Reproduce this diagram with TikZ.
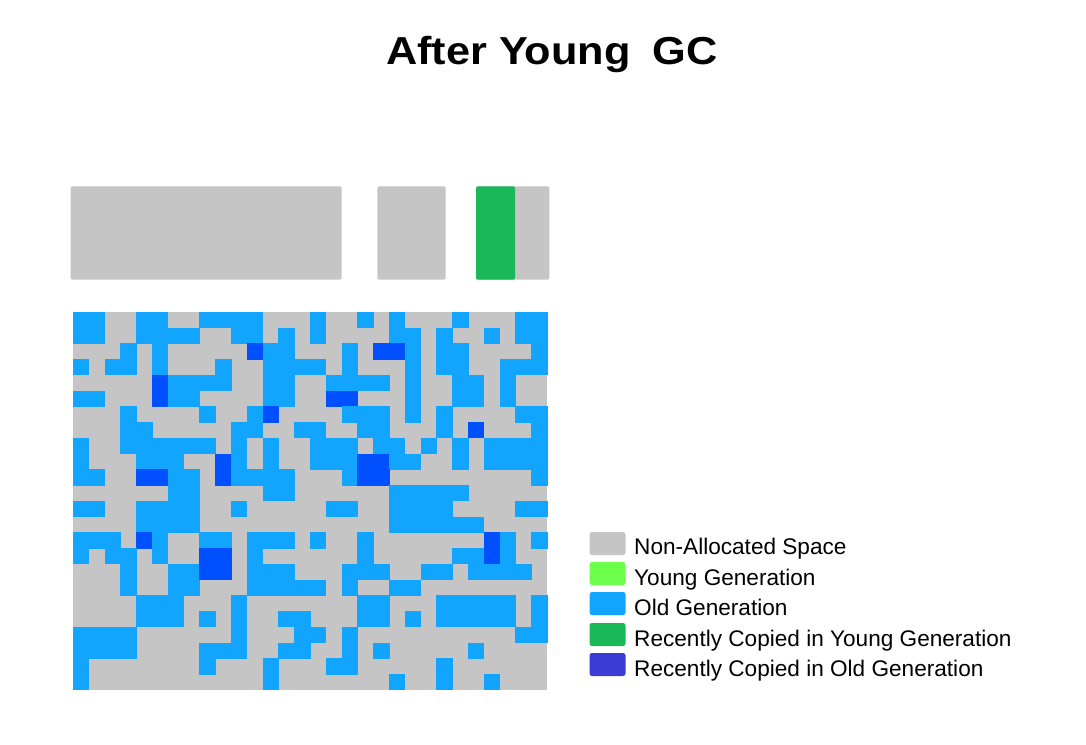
\documentclass[tikz,border=0pt]{standalone}
\usepackage{fontspec}
\setmainfont{Liberation Sans}
\definecolor{cg}{HTML}{C5C5C5}
\definecolor{cb}{HTML}{11A5FF}
\definecolor{cd}{HTML}{0050FF}
\definecolor{cyoung}{HTML}{6CFF4C}
\definecolor{ccopyyoung}{HTML}{1BB85A}
\definecolor{ccopyold}{HTML}{3B3BD5}
\tikzset{
  barbox/.style={fill=cg, rounded corners=2pt},
  legbox/.style={rounded corners=2.5pt},
  legtext/.style={anchor=base west, inner sep=0pt, font=\fontsize{22.6}{26}\selectfont},
}
\begin{document}
\begin{tikzpicture}[x=1pt,y=-1pt]
\useasboundingbox (0,0) rectangle (1086,744);
\fill[white] (0,0) rectangle (1086,744);
% title
\node[anchor=base, inner sep=0pt, font=\fontsize{39}{46}\selectfont\bfseries] (title) at (552,64.3)
  {\scalebox{1.11}[1]{After Young\hspace{20pt}GC}};
% top bars
\fill[barbox] (70.7,186.3) rectangle (341.7,279.7);
\fill[barbox] (377.3,186.3) rectangle (445.7,279.7);
\fill[barbox] (476,186.3) rectangle (549.3,279.7);
\fill[fill=ccopyyoung, rounded corners=2pt] (476,186.3) rectangle (515,279.7);
% grid
\fill[cg] (73.3,312) rectangle (547.3,690);
\foreach \rowdata [count=\r from 0] in {%
{b,b,g,g,b,b,g,g,b,b,b,b,g,g,g,b,g,g,b,g,b,g,g,g,b,g,g,g,b,b},%
{b,b,g,g,b,b,b,b,g,g,b,b,g,b,g,b,g,g,g,g,b,b,g,b,g,g,b,g,b,b},%
{g,g,g,b,g,b,g,g,g,g,g,d,b,b,g,g,g,b,g,d,d,b,g,b,b,g,g,g,g,b},%
{b,g,b,b,g,b,g,g,g,b,g,g,b,b,b,b,g,b,g,g,g,b,g,b,b,g,g,b,b,b},%
{g,g,g,g,g,d,b,b,b,b,g,g,b,b,g,g,b,b,b,b,g,b,g,g,b,b,g,b,g,g},%
{b,b,g,g,g,d,b,b,g,g,g,g,b,b,g,g,d,d,g,g,g,b,g,g,b,b,g,b,g,g},%
{g,g,g,b,g,g,g,g,b,g,g,b,d,g,g,g,g,b,b,b,g,b,g,b,g,g,g,g,b,b},%
{g,g,g,b,b,g,g,g,g,g,b,b,g,g,b,b,g,g,b,b,g,g,g,b,g,d,g,g,g,b},%
{b,g,g,b,b,b,b,b,b,g,b,g,b,g,g,b,b,b,g,b,b,g,b,g,b,g,b,b,b,b},%
{b,g,g,g,b,b,b,g,g,d,b,g,b,g,g,b,b,b,d,d,b,b,g,g,b,g,b,b,b,b},%
{b,b,g,g,d,d,b,b,g,d,b,b,b,b,g,g,g,b,d,d,g,g,g,g,g,g,g,g,g,b},%
{g,g,g,g,g,g,b,b,g,g,g,g,b,b,g,g,g,g,g,g,b,b,b,b,b,g,g,g,g,g},%
{b,b,g,g,b,b,b,b,g,g,b,g,g,g,g,g,b,b,g,g,b,b,b,b,g,g,g,g,b,b},%
{g,g,g,g,b,b,b,b,g,g,g,g,g,g,g,g,g,g,g,g,b,b,b,b,b,b,g,g,g,g},%
{b,b,b,g,d,b,g,g,b,b,g,b,b,b,g,b,g,g,b,g,g,g,g,g,g,g,d,b,g,b},%
{b,g,b,b,g,b,g,g,d,d,g,b,g,g,g,g,g,g,b,g,g,g,g,g,b,b,d,b,g,g},%
{g,g,g,b,g,g,b,b,d,d,g,b,b,b,g,g,g,b,b,b,g,g,b,b,g,b,b,b,b,g},%
{g,g,g,b,g,g,b,b,g,g,g,b,b,b,b,b,g,b,g,g,b,b,g,g,g,g,g,g,g,g},%
{g,g,g,g,b,b,b,g,g,g,b,g,g,g,g,g,g,g,b,b,g,g,g,b,b,b,b,b,g,b},%
{g,g,g,g,b,b,b,g,b,g,b,g,g,b,b,g,g,g,b,b,g,b,g,b,b,b,b,b,g,b},%
{b,b,b,b,g,g,g,g,g,g,b,g,g,g,b,b,g,b,g,g,g,g,g,g,g,g,g,g,b,b},%
{b,b,b,b,g,g,g,g,b,b,b,g,g,b,b,g,g,b,g,b,g,g,g,g,g,b,g,g,g,g},%
{b,g,g,g,g,g,g,g,b,g,g,g,b,g,g,g,b,b,g,g,g,g,g,b,g,g,g,g,g,g},%
{b,g,g,g,g,g,g,g,g,g,g,g,b,g,g,g,g,g,g,g,b,g,g,b,g,g,b,g,g,g}%
}{
  \foreach \cc [count=\c from 0] in \rowdata {
    \if\cc g\else
      \fill[fill=c\cc] ({73.3+15.8*\c-0.25},{312+15.75*\r-0.25}) rectangle ({73.3+15.8*(\c+1)+0.25},{312+15.75*(\r+1)+0.25});
    \fi
  }
}
% legend
\fill[legbox, fill=cg] (589.5,532) rectangle (625.5,555);
\fill[legbox, fill=cyoung] (589.5,562) rectangle (625.5,585);
\fill[legbox, fill=cb] (589.5,592) rectangle (625.5,615);
\fill[legbox, fill=ccopyyoung] (589.5,623) rectangle (625.5,646);
\fill[legbox, fill=ccopyold] (589.5,653) rectangle (625.5,676);
\node[legtext] (l1) at (634,554) {Non-Allocated Space};
\node[legtext] (l2) at (634,585) {Young Generation};
\node[legtext] (l3) at (634,615) {Old Generation};
\node[legtext] (l4) at (634,646) {Recently Copied in Young Generation};
\node[legtext] (l5) at (634,676) {Recently Copied in Old Generation};
\end{tikzpicture}
\end{document}
